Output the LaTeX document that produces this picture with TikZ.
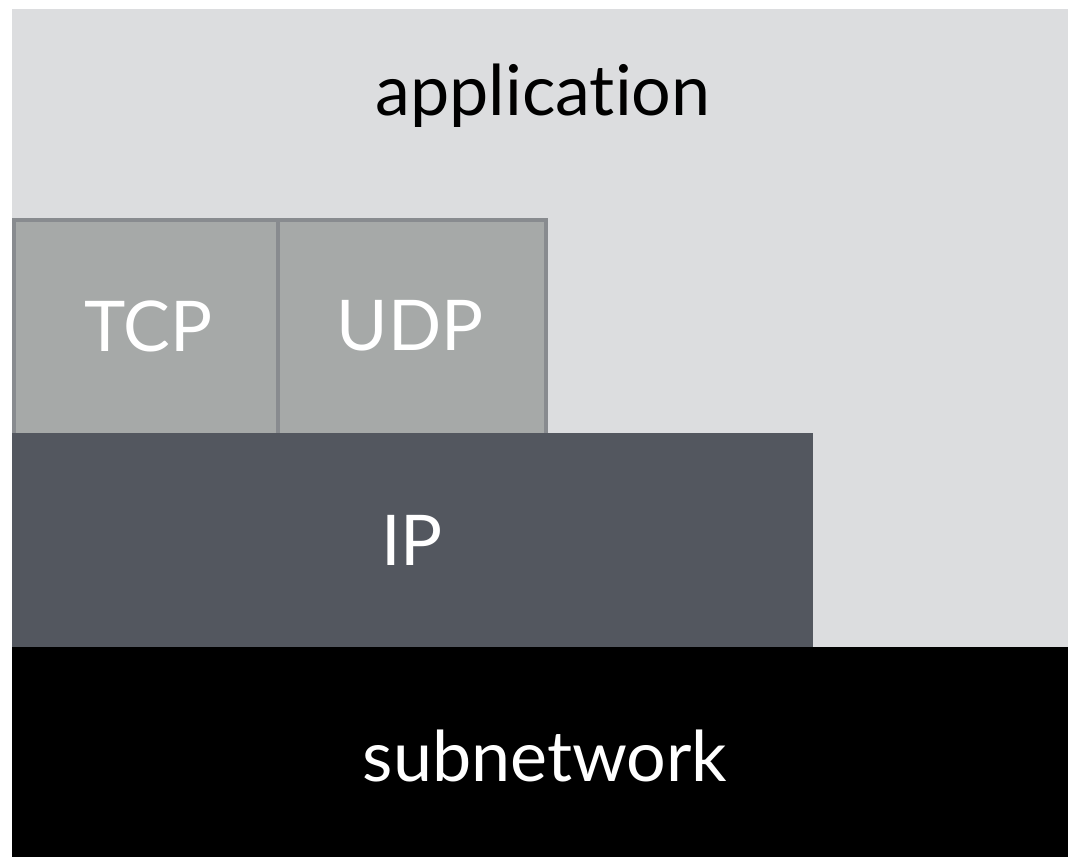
\documentclass[tikz,border=0pt]{standalone}
\usepackage{fontspec}
\setmainfont{Lato}[Ligatures={NoCommon,NoRare}]
\definecolor{appgray}{HTML}{DCDDDF}
\definecolor{tcpgray}{HTML}{A6A9A8}
\definecolor{tcpedge}{HTML}{888B8F}
\definecolor{ipgray}{HTML}{53575F}
\begin{document}
\begin{tikzpicture}[x=1pt,y=-1pt,
  lbl/.style={font=\fontsize{70}{80}\selectfont, inner sep=0pt},
  proto/.style={fill=tcpgray, draw=tcpedge, line width=3.5pt}]
\useasboundingbox[fill=white] (0,0) rectangle (1068,857);
\fill[appgray] (12,9) rectangle (1068,857);
\node[proto, minimum width=264pt, minimum height=215pt, anchor=north west] (tcp) at (12,218) {};
\node[proto, minimum width=268pt, minimum height=215pt, anchor=north west] (udp) at (276,218) {};
\fill[ipgray] (12,433) rectangle (813,647);
\fill[black] (12,647) rectangle (1068,857);
\node[lbl, text=black] (app) at (543,96) {application};
\node[lbl, text=white] (tcplbl) at (148,326) {TCP};
\node[lbl, text=white] (udplbl) at (410,326) {UDP};
\node[lbl, text=white] (ip) at (412,540) {IP};
\node[lbl, text=white] (sub) at (545,756) {subnetwork};
\end{tikzpicture}
\end{document}
